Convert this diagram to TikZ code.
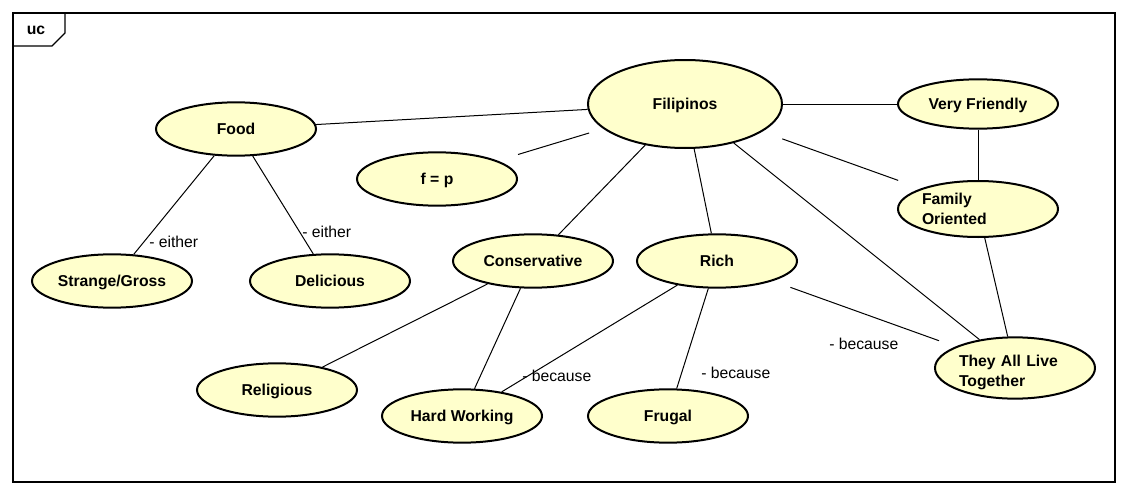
\documentclass[tikz,border=0pt]{standalone}
\usepackage{fontspec}
\setmainfont{Liberation Sans}
\usepackage{xcolor}
\usetikzlibrary{positioning, shapes.geometric, calc}

\definecolor{ucfill}{RGB}{255,255,204}

\begin{document}
\begin{tikzpicture}[
  x=0.75pt, y=-0.75pt,
  every node/.style={font=\fontsize{11.8}{15}\selectfont},
  usecase/.style={draw, ellipse, fill=ucfill, line width=1.5pt, inner sep=0pt,
    minimum width=120pt, minimum height=40pt, font=\fontsize{11.8}{15}\selectfont\bfseries,
    align=center, text height=8.5pt, text depth=0pt},
  twoline/.style={align=left, text width=84pt, text height={}, text depth={}},
  assoc/.style={draw, line width=0.75pt},
  note/.style={anchor=west, inner sep=0pt}
]
\useasboundingbox (0,0) rectangle (1129,496);

% Frame with its tab
\draw[line width=0.9pt] (13,13) rectangle (1115,482);
\draw[line width=0.9pt] (13,46) -- (52,46) -- (65,33) -- (65,13);
\node[font=\fontsize{11.8}{15}\selectfont\bfseries] (uc) at (36,30) {uc};

% Use cases
\node[usecase, minimum width=145.5pt, minimum height=66pt] (filipinos) at (685,104) {Filipinos};
\node[usecase] (food) at (236,129) {Food};
\node[usecase, minimum height=37pt] (friendly) at (978,104) {Very Friendly};
\node[usecase] (fp) at (437,179) {f = p};
\node[usecase, twoline, minimum height=42pt] (family) at (978,209) {Family\\Oriented};
\node[usecase] (conservative) at (533,261) {Conservative};
\node[usecase] (rich) at (717,261) {Rich};
\node[usecase] (strange) at (112,281) {Strange/Gross};
\node[usecase] (delicious) at (330,281) {Delicious};
\node[usecase] (religious) at (277,390) {Religious};
\node[usecase] (hardwork) at (462,416) {Hard Working};
\node[usecase] (frugal) at (668,416) {Frugal};
\node[usecase, twoline, minimum height=45pt, text height=15pt] (together) at (1015,368) {They All Live\\Together};

% Associations
\draw[assoc] (food) -- (filipinos);
\draw[assoc, shorten <=16pt, shorten >=11pt] (fp) -- (filipinos);
\draw[assoc] (filipinos) -- (friendly);
\draw[assoc, shorten <=16pt, shorten >=18pt] (filipinos) -- (family);
\draw[assoc] (filipinos) -- (conservative);
\draw[assoc] (filipinos) -- (rich);
\draw[assoc] (filipinos) -- (together);
\draw[assoc] (friendly) -- (family);
\draw[assoc] (family) -- (together);
\draw[assoc, shorten <=14pt, shorten >=13pt] (rich) -- (together);
\draw[assoc] (food) -- (strange);
\draw[assoc] (food) -- (delicious);
\draw[assoc] (conservative) -- (religious);
\draw[assoc] (conservative) -- (hardwork);
\draw[assoc] (rich) -- (hardwork);
\draw[assoc] (rich) -- (frugal);

% Labels
\node[note] (either1) at (149,242) {- either};
\node[note] (either2) at (302,232) {- either};
\node[note] (because1) at (829,344) {- because};
\node[note] (because2) at (522,376) {- because};
\node[note] (because3) at (701,373) {- because};

\end{tikzpicture}
\end{document}
